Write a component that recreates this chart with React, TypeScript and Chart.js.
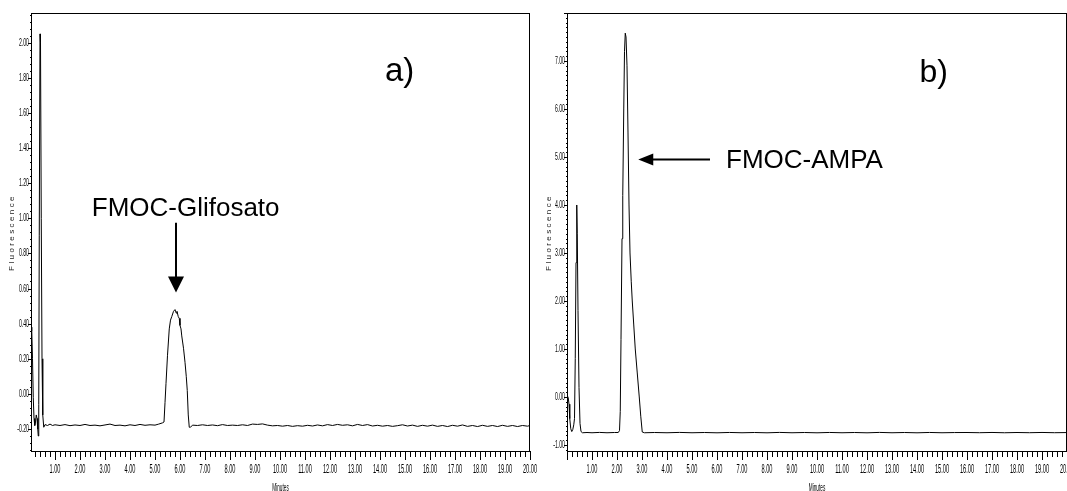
import React, { useEffect, useRef } from 'react';
import { Chart, registerables } from 'chart.js';

Chart.register(...registerables);

// ---------------- data ----------------
// Panel a) FMOC-Glifosato chromatogram
const minutesA = [
  0.04, 0.07, 0.10, 0.13, 0.16, 0.19, 0.22, 0.25, 0.28, 0.31, 0.33, 0.35, 0.37, 0.40, 0.42, 0.45, 0.48, 0.51, 0.55, 0.60,
  0.70, 0.80, 0.90, 1.00, 1.20, 1.40, 1.60, 1.80, 2.00, 2.20, 2.40, 2.60, 2.80, 3.00, 3.20, 3.40, 3.60, 3.80, 4.00, 4.20,
  4.40, 4.60, 4.80, 5.00, 5.15, 5.30, 5.36,
  5.40, 5.44, 5.50, 5.57, 5.62, 5.67, 5.74, 5.80, 5.85, 5.88, 5.93, 5.97, 6.00, 6.04, 6.07, 6.14, 6.20, 6.25, 6.29, 6.33,
  6.37, 6.42, 6.50,
  6.70, 6.90, 7.10, 7.30, 7.50, 7.70, 7.90, 8.10, 8.30, 8.50, 8.70, 8.90, 9.10, 9.30, 9.50, 9.70, 9.90, 10.10, 10.30,
  10.50, 10.70, 10.90, 11.10, 11.30, 11.50, 11.70, 11.90, 12.10, 12.30, 12.50, 12.70, 12.90, 13.10, 13.30, 13.50, 13.70,
  13.90, 14.10, 14.30, 14.50, 14.70, 14.90, 15.10, 15.30, 15.50, 15.70, 15.90, 16.10, 16.30, 16.50, 16.70, 16.90, 17.10,
  17.30, 17.50, 17.70, 17.90, 18.10, 18.30, 18.50, 18.70, 18.90, 19.10, 19.30, 19.50, 19.70, 19.90, 20.00,
];
const fluorA = [
  0.38, 0.36, 0.20, -0.02, -0.14, -0.18, -0.16, -0.12, -0.14, -0.20, -0.24, -0.06, 0.90, 2.05, 2.00, 1.00, 0.20, -0.12, -0.19, -0.175,
  -0.180, -0.172, -0.180, -0.176, -0.180, -0.175, -0.181, -0.177, -0.180, -0.174, -0.180, -0.178, -0.182, -0.177, -0.172, -0.180, -0.178, -0.182, -0.176, -0.180,
  -0.174, -0.179, -0.176, -0.178, -0.172, -0.165, -0.160,
  -0.05, 0.06, 0.22, 0.37, 0.42, 0.44, 0.47, 0.48, 0.46, 0.47, 0.44, 0.43, 0.39, 0.37, 0.33, 0.26, 0.18, 0.10, 0.02, -0.12,
  -0.19, -0.19, -0.178,
  -0.180, -0.176, -0.180, -0.177, -0.181, -0.175, -0.180, -0.178, -0.180, -0.176, -0.180, -0.172, -0.174, -0.171, -0.178, -0.182, -0.180, -0.184, -0.180,
  -0.185, -0.181, -0.184, -0.179, -0.183, -0.177, -0.182, -0.175, -0.180, -0.174, -0.179, -0.176, -0.182, -0.174, -0.180, -0.175, -0.183,
  -0.179, -0.184, -0.180, -0.185, -0.181, -0.176, -0.183, -0.178, -0.185, -0.179, -0.184, -0.178, -0.185, -0.180, -0.186, -0.179, -0.184,
  -0.177, -0.185, -0.180, -0.186, -0.179, -0.185, -0.180, -0.186, -0.179, -0.185, -0.180, -0.186, -0.180, -0.184, -0.180,
];

// Panel b) FMOC-AMPA chromatogram
const minutesB = [
  0.02, 0.05, 0.08, 0.11, 0.15, 0.19, 0.23, 0.27, 0.30, 0.33, 0.36, 0.39, 0.41, 0.44, 0.48, 0.52, 0.56, 0.62, 0.80, 1.00,
  1.30, 1.60, 1.90, 2.05,
  2.10, 2.13, 2.16, 2.20, 2.23, 2.27, 2.30, 2.33, 2.36, 2.40, 2.44, 2.48, 2.52, 2.57, 2.61, 2.67, 2.73, 2.81, 2.89, 2.95,
  3.01, 3.10, 3.50, 4.00, 4.50, 5.00, 5.50, 6.00, 6.50, 7.00, 7.50, 8.00, 8.50, 9.00, 9.50, 10.00, 10.50, 11.00, 11.50,
  12.00, 12.50, 13.00, 13.50, 14.00, 14.50, 15.00, 15.50, 16.00, 16.50, 17.00, 17.50, 18.00, 18.50, 19.00, 19.50, 20.00,
];
const fluorB = [
  0.02, -0.02, -0.15, -0.45, -0.66, -0.72, -0.68, -0.58, -0.45, 0.80, 2.80, 4.00, 3.40, 1.80, 0.20, -0.55, -0.72, -0.745, -0.740, -0.745,
  -0.738, -0.745, -0.740, -0.740,
  -0.70, -0.30, 1.20, 3.30, 4.20, 6.00, 7.20, 7.58, 7.50, 6.90, 5.50, 4.00, 3.00, 2.40, 2.00, 1.50, 1.00, 0.50, 0.00, -0.40,
  -0.73, -0.745, -0.740, -0.745, -0.738, -0.745, -0.740, -0.746, -0.739, -0.745, -0.740, -0.746, -0.738, -0.745, -0.740, -0.746, -0.739, -0.745, -0.740,
  -0.746, -0.738, -0.745, -0.740, -0.746, -0.739, -0.745, -0.741, -0.740, -0.744, -0.739, -0.745, -0.740, -0.744, -0.739, -0.744, -0.741,
];

// tick labels
const xTickValues = [1, 2, 3, 4, 5, 6, 7, 8, 9, 10, 11, 12, 13, 14, 15, 16, 17, 18, 19, 20];
const yTicksA = [-0.2, 0, 0.2, 0.4, 0.6, 0.8, 1.0, 1.2, 1.4, 1.6, 1.8, 2.0];
const yTicksB = [-1, 0, 1, 2, 3, 4, 5, 6, 7];

const xTitle = 'Minutes';
const yTitle = 'Fluorescence';

// ---------------- styling / layout ----------------
const TEXT_FONT = '"Liberation Sans", Arial, Helvetica, sans-serif';
const H = 491;
const SQUEEZE = 0.47; // horizontal compression of the axis lettering

function squeezedText(ctx: any, text: string, x: number, y: number, align: string, size: number) {
  ctx.save();
  ctx.translate(x, y);
  ctx.scale(SQUEEZE, 1);
  ctx.font = `${size}px ${TEXT_FONT}`;
  ctx.textAlign = align;
  ctx.textBaseline = 'middle';
  ctx.fillText(text, 0, 0);
  ctx.restore();
}

const framePlugin = {
  id: 'frame',
  afterDraw(chart: any, _args: any, opts: any) {
    const { ctx, chartArea: a } = chart;
    const xs = chart.scales.x;
    const ys = chart.scales.y;
    ctx.save();
    ctx.strokeStyle = '#000';
    ctx.fillStyle = '#000';
    ctx.lineWidth = 1;
    ctx.strokeRect(a.left + 0.5, a.top + 0.5, a.right - a.left - 1, a.bottom - a.top - 1);
    // x ticks (major + minor)
    ctx.beginPath();
    const nx = Math.round(xs.max / opts.xMinor);
    for (let i = 0; i <= nx; i++) {
      const v = i * opts.xMinor;
      if (v < xs.min - 1e-9) continue;
      const px = Math.round(xs.getPixelForValue(v)) + 0.5;
      const major = Math.abs(v - Math.round(v)) < 1e-6;
      ctx.moveTo(px, a.bottom - 1);
      ctx.lineTo(px, a.bottom - 1 + (major ? 9 : 6));
    }
    ctx.stroke();
    // y ticks
    ctx.beginPath();
    const start = Math.ceil(ys.min / opts.yMinor - 1e-6);
    const end = Math.floor(ys.max / opts.yMinor + 1e-6);
    for (let i = start; i <= end; i++) {
      const v = i * opts.yMinor;
      const py = Math.round(ys.getPixelForValue(v)) + 0.5;
      const r = v / opts.yMajor;
      const major = Math.abs(r - Math.round(r)) < 1e-6;
      ctx.moveTo(a.left + 1, py);
      ctx.lineTo(a.left + 1 - (major ? 4 : 2), py);
    }
    ctx.stroke();
    // tick labels from the scales' own ticks
    for (const t of xs.ticks) {
      squeezedText(ctx, Number(t.value).toFixed(2), xs.getPixelForValue(t.value), a.bottom + 18, 'center', 12);
    }
    for (const t of ys.ticks) {
      squeezedText(ctx, Number(t.value).toFixed(2), a.left - 2, ys.getPixelForValue(t.value), 'right', 11);
    }
    // axis titles
    squeezedText(ctx, xTitle, (a.left + a.right) / 2, a.bottom + 36, 'center', 10);
    ctx.save();
    ctx.translate(opts.yTitleX, (a.top + a.bottom) / 2);
    ctx.rotate(-Math.PI / 2);
    ctx.font = `8px ${TEXT_FONT}`;
    ctx.fillStyle = '#222';
    ctx.textAlign = 'center';
    ctx.textBaseline = 'middle';
    (ctx as any).letterSpacing = '2.4px';
    ctx.fillText(yTitle, 0, 0);
    ctx.restore();
    ctx.restore();
  },
};

const annotPlugin = {
  id: 'annot',
  afterDraw(chart: any, _args: any, opts: any) {
    const { ctx } = chart;
    const xs = chart.scales.x;
    const ys = chart.scales.y;
    ctx.save();
    ctx.fillStyle = '#000';
    ctx.strokeStyle = '#000';
    ctx.textAlign = 'left';
    ctx.textBaseline = 'alphabetic';
    for (const t of opts.texts) {
      ctx.font = `${t.size}px ${TEXT_FONT}`;
      ctx.fillText(t.text, xs.getPixelForValue(t.x), ys.getPixelForValue(t.y));
    }
    for (const ar of opts.arrows) {
      const x1 = xs.getPixelForValue(ar.x1);
      const y1 = ys.getPixelForValue(ar.y1);
      const x2 = xs.getPixelForValue(ar.x2);
      const y2 = ys.getPixelForValue(ar.y2);
      const dx = x2 - x1;
      const dy = y2 - y1;
      const len = Math.hypot(dx, dy);
      const ux = dx / len;
      const uy = dy / len;
      const bx = x2 - ux * ar.headLength;
      const by = y2 - uy * ar.headLength;
      ctx.lineWidth = 2;
      ctx.beginPath();
      ctx.moveTo(x1, y1);
      ctx.lineTo(bx + ux, by + uy);
      ctx.stroke();
      ctx.beginPath();
      ctx.moveTo(x2, y2);
      ctx.lineTo(bx - (uy * ar.headWidth) / 2, by + (ux * ar.headWidth) / 2);
      ctx.lineTo(bx + (uy * ar.headWidth) / 2, by - (ux * ar.headWidth) / 2);
      ctx.closePath();
      ctx.fill();
    }
    ctx.restore();
  },
};

type PanelSpec = {
  minutes: number[];
  values: number[];
  yTicks: number[];
  xMin: number;
  xMax: number;
  yMin: number;
  yMax: number;
  yMinor: number;
  yMajor: number;
  width: number;
  left: number;
  yAxisWidth: number;
  padRight: number;
  yTitleX: number;
  annot: any;
};

const panelA: PanelSpec = {
  minutes: minutesA,
  values: fluorA,
  yTicks: yTicksA,
  xMin: 0.04,
  xMax: 20,
  yMin: -0.331,
  yMax: 2.169,
  yMinor: 0.04,
  yMajor: 0.2,
  width: 560,
  left: 0,
  yAxisWidth: 31,
  padRight: 30,
  yTitleX: 12,
  annot: {
    texts: [
      { text: 'a)', x: 14.2, y: 1.784, size: 33 },
      { text: 'FMOC-Glifosato', x: 2.47, y: 1.014, size: 26 },
    ],
    arrows: [{ x1: 5.84, y1: 0.974, x2: 5.84, y2: 0.577, headLength: 16, headWidth: 16 }],
  },
};

const panelB: PanelSpec = {
  minutes: minutesB,
  values: fluorB,
  yTicks: yTicksB,
  xMin: 0,
  xMax: 20,
  yMin: -1.146,
  yMax: 8.0,
  yMinor: 0.1,
  yMajor: 1,
  width: 534,
  left: 533,
  yAxisWidth: 34,
  padRight: 0,
  yTitleX: 16,
  annot: {
    texts: [
      { text: 'b)', x: 14.1, y: 6.56, size: 32 },
      { text: 'FMOC-AMPA', x: 6.36, y: 4.78, size: 26 },
    ],
    arrows: [{ x1: 5.72, y1: 4.95, x2: 2.85, y2: 4.95, headLength: 15, headWidth: 12 }],
  },
};

function buildConfig(p: PanelSpec): any {
  return {
    type: 'line',
    data: {
      datasets: [
        {
          data: p.minutes.map((m, i) => ({ x: m, y: p.values[i] })),
          borderColor: '#000',
          borderWidth: 1,
          pointRadius: 0,
          tension: 0,
          fill: false,
        },
      ],
    },
    plugins: [framePlugin, annotPlugin],
    options: {
      animation: false,
      responsive: false,
      devicePixelRatio: 1,
      parsing: false,
      normalized: true,
      layout: { padding: { left: 0, top: 13, right: p.padRight, bottom: 0 } },
      plugins: {
        legend: { display: false },
        tooltip: { enabled: false },
        frame: { xMinor: 0.2, yMinor: p.yMinor, yMajor: p.yMajor, yTitleX: p.yTitleX },
        annot: p.annot,
      },
      scales: {
        x: {
          type: 'linear',
          min: p.xMin,
          max: p.xMax,
          grid: { display: false, drawTicks: false },
          border: { display: false },
          afterBuildTicks: (s: any) => {
            s.ticks = xTickValues.map((v) => ({ value: v }));
          },
          afterFit: (s: any) => {
            s.height = 39;
            s.paddingLeft = 0;
            s.paddingRight = 0;
          },
          ticks: { display: false, autoSkip: false, maxRotation: 0 },
          title: { display: false, text: xTitle },
        },
        y: {
          type: 'linear',
          min: p.yMin,
          max: p.yMax,
          grid: { display: false, drawTicks: false },
          border: { display: false },
          afterBuildTicks: (s: any) => {
            s.ticks = p.yTicks.map((v) => ({ value: v }));
          },
          afterFit: (s: any) => {
            s.width = p.yAxisWidth;
            s.paddingTop = 0;
            s.paddingBottom = 0;
          },
          ticks: { display: false },
          title: { display: false, text: yTitle },
        },
      },
    },
  };
}

function Panel({ spec }: { spec: PanelSpec }) {
  const ref = useRef<HTMLCanvasElement>(null);
  useEffect(() => {
    const chart = new Chart(ref.current as HTMLCanvasElement, buildConfig(spec));
    return () => chart.destroy();
  }, [spec]);
  return (
    <canvas
      ref={ref}
      width={spec.width}
      height={H}
      style={{ position: 'absolute', left: spec.left, top: 0, width: spec.width, height: H }}
    />
  );
}

export default function App() {
  return (
    <div
      style={{
        position: 'fixed',
        left: 0,
        top: 0,
        width: 1067,
        height: H,
        background: '#fff',
        overflow: 'hidden',
      }}
    >
      <Panel spec={panelA} />
      <Panel spec={panelB} />
    </div>
  );
}
